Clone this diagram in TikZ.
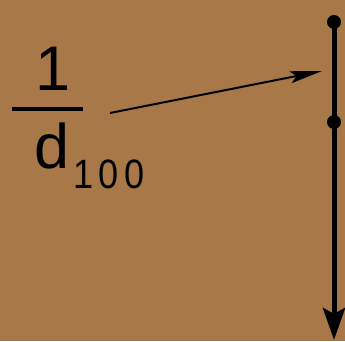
\documentclass[tikz,border=0pt]{standalone}
\usepackage{fontspec}
\setmainfont{Liberation Sans}
\usetikzlibrary{arrows.meta}
\definecolor{bg}{RGB}{168,120,72}
\begin{document}
\begin{tikzpicture}[x=1pt,y=1pt,
  big/.style={inner sep=0pt,anchor=base,font=\fontsize{63}{63}\selectfont},
  small/.style={inner sep=0pt,anchor=base,font=\fontsize{41}{41}\selectfont,xscale=0.88},
  dot/.style={circle,fill=black,inner sep=0pt,minimum size=14pt}]
\fill[bg] (0,0) rectangle (345,341);
\useasboundingbox (0,0) rectangle (345,341);
\node[big] (one) at (53.5,251) {1};
\draw[line width=3.5pt] (12,232) -- (83,232);
\node[big] (d) at (51.6,173) {d};
\node[small] (s1) at (84,153) {1};
\node[small] (s2) at (108.5,153) {0};
\node[small] (s3) at (135,153) {0};
\node[dot] (top) at (334,319) {};
\node[dot] (mid) at (334,219) {};
\coordinate (bot) at (334,1);
\coordinate (astart) at (110,228);
\coordinate (aend) at (322,270);
\draw[line width=5pt,-{Stealth[length=32pt,width=22pt,inset=6pt]}] (top.center) -- (bot);
\draw[line width=2pt,-{Stealth[length=32pt,width=12pt,inset=6pt]}] (astart) -- (aend);
\end{tikzpicture}
\end{document}
